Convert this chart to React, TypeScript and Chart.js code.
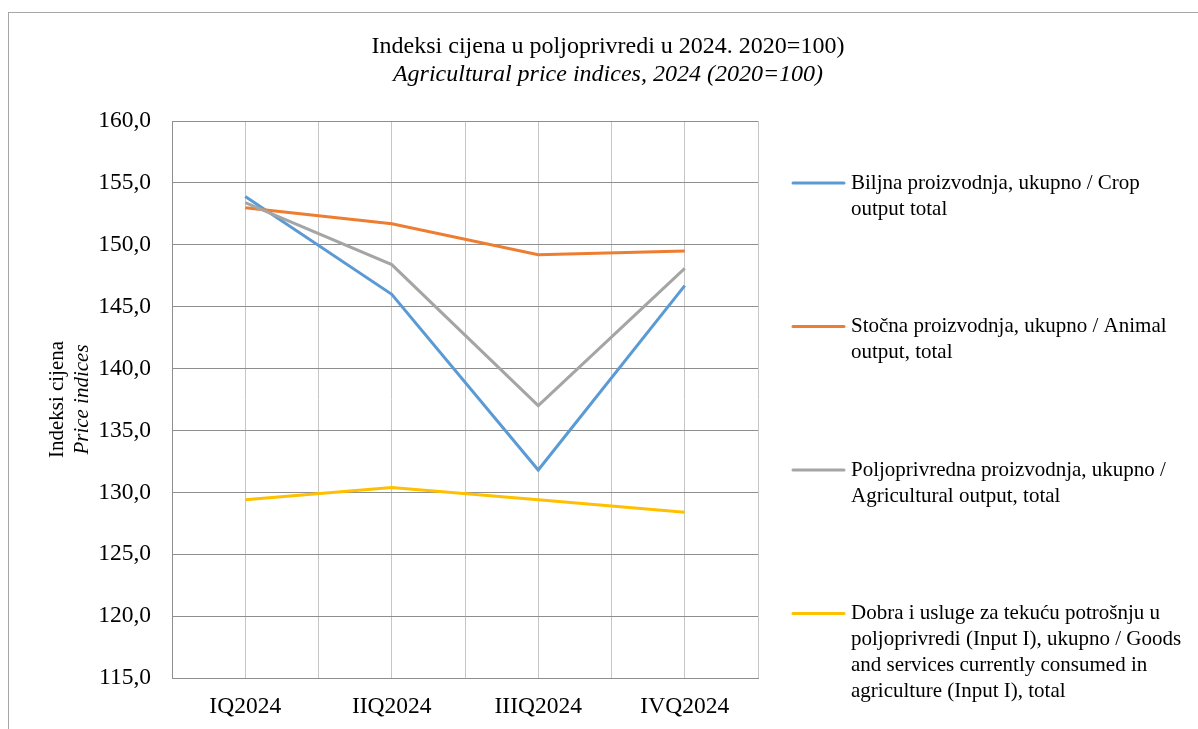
import React, { useEffect, useRef } from "react";
import { Chart, registerables } from "chart.js";

Chart.register(...registerables);

const CATEGORIES = ["IQ2024", "IIQ2024", "IIIQ2024", "IVQ2024"];
const CROP = [153.9, 146.0, 131.8, 146.7];
const ANIMAL = [153.0, 151.7, 149.2, 149.5];
const AGRI = [153.4, 148.4, 137.0, 148.1];
const INPUT = [129.4, 130.4, 129.4, 128.4];

const Y_MIN = 115;
const Y_MAX = 160;
const Y_STEP = 5;

const TITLE_LINE_1 = "Indeksi cijena u poljoprivredi u 2024. 2020=100)";
const TITLE_LINE_2 = "Agricultural price indices, 2024 (2020=100)";
const Y_TITLE_1 = "Indeksi cijena";
const Y_TITLE_2 = "Price indices";

const LABELS_CROP = ["Biljna proizvodnja, ukupno / Crop", "output total"];
const LABELS_ANIMAL = ["Stočna proizvodnja, ukupno / Animal", "output, total"];
const LABELS_AGRI = ["Poljoprivredna proizvodnja, ukupno /", "Agricultural output, total"];
const LABELS_INPUT = [
  "Dobra i usluge za tekuću potrošnju u",
  "poljoprivredi (Input I), ukupno / Goods",
  "and services currently consumed in",
  "agriculture (Input I), total",
];

const COLOR_CROP = "#5B9BD5";
const COLOR_ANIMAL = "#ED7D31";
const COLOR_AGRI = "#A5A5A5";
const COLOR_INPUT = "#FFC000";

const FONT = '"Liberation Serif", "Times New Roman", serif';

const textPlugin = {
  id: "customText",
  afterDraw(chart: any) {
    const ctx = chart.ctx as CanvasRenderingContext2D;
    const { top, bottom, right } = chart.chartArea;
    ctx.save();
    ctx.fillStyle = "#000";
    ctx.textBaseline = "middle";
    // titles
    ctx.textAlign = "center";
    ctx.font = `24px ${FONT}`;
    ctx.fillText(TITLE_LINE_1, 599, 34);
    ctx.font = `italic 24px ${FONT}`;
    ctx.fillText(TITLE_LINE_2, 599, 62);
    // y-axis title
    const cy = (top + bottom) / 2;
    ctx.save();
    ctx.translate(48, cy);
    ctx.rotate(-Math.PI / 2);
    ctx.font = `21px ${FONT}`;
    ctx.fillText(Y_TITLE_1, 0, 0);
    ctx.restore();
    ctx.save();
    ctx.translate(73, cy);
    ctx.rotate(-Math.PI / 2);
    ctx.font = `italic 21px ${FONT}`;
    ctx.fillText(Y_TITLE_2, 0, 0);
    ctx.restore();
    // legend
    const items = chart.data.datasets.map((ds: any) => ({
      lines: ds.legendLines as string[],
      color: ds.borderColor as string,
    }));
    ctx.font = `21px ${FONT}`;
    ctx.textAlign = "left";
    items.forEach((it: any, i: number) => {
      const y = top + 62 + i * 143.5;
      ctx.strokeStyle = it.color;
      ctx.lineWidth = 3;
      ctx.lineCap = "round";
      ctx.beginPath();
      ctx.moveTo(right + 35, y);
      ctx.lineTo(right + 86, y);
      ctx.stroke();
      it.lines.forEach((ln: string, j: number) => {
        ctx.fillText(ln, right + 93, y + j * 26);
      });
    });
    ctx.restore();
  },
};

export default function App() {
  const ref = useRef<HTMLCanvasElement | null>(null);
  useEffect(() => {
    if (!ref.current) return;
    const fmt = (v: any) => Number(v).toFixed(1).replace(".", ",");
    const mk = (label: string[], data: number[], color: string, order: number) => ({
      label: label.join(" "),
      legendLines: label,
      data,
      borderColor: color,
      backgroundColor: color,
      borderWidth: 3,
      pointRadius: 0,
      tension: 0,
      fill: false,
      order,
      xAxisID: "x",
      yAxisID: "y",
    });
    const chart = new Chart(ref.current, {
      type: "line",
      data: {
        labels: CATEGORIES,
        datasets: [
          mk(LABELS_CROP, CROP, COLOR_CROP, 4),
          mk(LABELS_ANIMAL, ANIMAL, COLOR_ANIMAL, 3),
          mk(LABELS_AGRI, AGRI, COLOR_AGRI, 2),
          mk(LABELS_INPUT, INPUT, COLOR_INPUT, 1),
        ] as any,
      },
      options: {
        animation: false,
        responsive: true,
        maintainAspectRatio: false,
        layout: { padding: { top: 108, right: 440, bottom: 12, left: 0 } },
        plugins: {
          legend: { display: false },
          title: { display: false },
          tooltip: { enabled: false },
        },
        scales: {
          x: {
            type: "category",
            position: "bottom",
            offset: true,
            grid: { offset: true, color: "#c6c6c6", lineWidth: 1, drawTicks: false },
            border: { display: true, color: "#8e8e8e", width: 1 },
            ticks: { color: "#000", font: { family: FONT, size: 23.5 }, padding: 15, maxRotation: 0 },
            afterFit: (s: any) => { s.height = 40; },
          },
          x2: {
            type: "category",
            position: "bottom",
            labels: CATEGORIES,
            offset: true,
            grid: { offset: false, color: "#c6c6c6", lineWidth: 1, drawTicks: false },
            border: { display: false },
            ticks: { display: false },
            afterFit: (s: any) => { s.height = 0; },
          },
          y: {
            type: "linear",
            min: Y_MIN,
            max: Y_MAX,
            ticks: {
              stepSize: Y_STEP,
              color: "#000",
              font: { family: FONT, size: 23.5 },
              padding: 21,
              callback: fmt,
            },
            grid: { color: "#8e8e8e", lineWidth: 1, drawTicks: false },
            border: { display: true, color: "#8e8e8e", width: 1 },
            afterFit: (s: any) => { s.width = 163; },
          },
        },
      } as any,
      plugins: [textPlugin],
    });
    return () => chart.destroy();
  }, []);
  return (
    <div
      style={{
        position: "fixed",
        left: 8,
        top: 12,
        width: 1189,
        height: 717,
        borderTop: "1px solid #a6a6a6",
        borderLeft: "1px solid #a6a6a6",
        background: "#fff",
      }}
    >
      <canvas ref={ref} />
    </div>
  );
}
